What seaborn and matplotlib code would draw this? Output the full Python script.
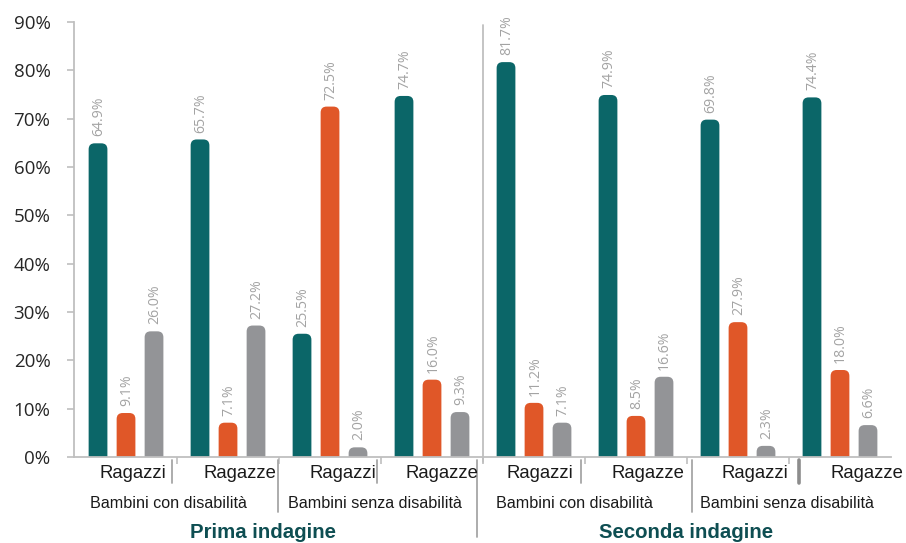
import matplotlib
matplotlib.use("Agg")
import matplotlib.pyplot as plt
import matplotlib.transforms as mtransforms
from matplotlib.patches import FancyBboxPatch
import numpy as np
import pandas as pd
import seaborn as sns

# ---------------- data ----------------
groups = ["Prima|con|Ragazzi", "Prima|con|Ragazze", "Prima|senza|Ragazzi", "Prima|senza|Ragazze",
          "Seconda|con|Ragazzi", "Seconda|con|Ragazze", "Seconda|senza|Ragazzi", "Seconda|senza|Ragazze"]
gender_labels = ["Ragazzi", "Ragazze", "Ragazzi", "Ragazze", "Ragazzi", "Ragazze", "Ragazzi", "Ragazze"]
category_labels = ["Bambini con disabilità", "Bambini senza disabilità",
                   "Bambini con disabilità", "Bambini senza disabilità"]
survey_labels = ["Prima indagine", "Seconda indagine"]
series_names = ["Serie 1", "Serie 2", "Serie 3"]
serie1 = [64.9, 65.7, 25.5, 74.7, 81.7, 74.9, 69.8, 74.4]
serie2 = [9.1, 7.1, 72.5, 16.0, 11.2, 8.5, 27.9, 18.0]
serie3 = [26.0, 27.2, 2.0, 9.3, 7.1, 16.6, 2.3, 6.6]
colors = ["#0b6668", "#e05728", "#939497"]

df = pd.DataFrame({
    "gruppo": groups * 3,
    "serie": [s for s in series_names for _ in groups],
    "valore": serie1 + serie2 + serie3,
})

# ---------------- figure ----------------
sns.set_theme(style="white")
plt.rcParams["font.family"] = ["Liberation Sans", "DejaVu Sans"]

W, H = 906, 543
fig = plt.figure(figsize=(W / 100, H / 100), dpi=100)
ax = fig.add_axes([74 / W, (H - 457) / H, (891 - 74) / W, (457 - 22) / H])

sns.barplot(data=df, x="gruppo", y="valore", hue="serie", order=groups,
            hue_order=series_names, palette=colors, width=0.8235, gap=0.33,
            legend=False, ax=ax, saturation=1)

ax.set_xlim(-0.51, 7.5)
ax.set_ylim(0, 90)

# rounded top bars
fig.canvas.draw()
p0 = ax.transData.transform((0, 0))
p1 = ax.transData.transform((1, 1))
px_x = p1[0] - p0[0]
px_y = p1[1] - p0[1]
r = 6.0 / px_x
asp = px_x / px_y
bars = list(ax.patches)
for b in bars:
    x, y0 = b.get_x(), b.get_y()
    w, h = b.get_width(), b.get_height()
    fc = b.get_facecolor()
    b.remove()
    fb = FancyBboxPatch((x, -5), w, h + 5,
                        boxstyle=f"round,pad=0,rounding_size={r}",
                        mutation_aspect=asp, fc=fc, ec="none")
    ax.add_patch(fb)
    ax.annotate(f"{h:.1f}%", (x + w / 2, h), xytext=(0.5, 5), textcoords="offset points",
                rotation=90, ha="center", va="bottom", fontsize=10.2, color="#a3a3a3",
                family=["Open Sans", "DejaVu Sans"])

# axes styling
for s in ["top", "right"]:
    ax.spines[s].set_visible(False)
for s in ["left", "bottom"]:
    ax.spines[s].set_color("#bfbfbf")
    ax.spines[s].set_linewidth(1.3)

ax.set_yticks(np.arange(0, 91, 10))
ax.set_yticklabels([f"{v}%" for v in range(0, 91, 10)],
                   family=["Open Sans", "DejaVu Sans"], fontsize=13.5, color="#262626")
ax.tick_params(axis="y", length=5, width=1.2, color="#bfbfbf", pad=12, direction="out", left=True)
ax.set_xticks(np.arange(0.5, 7, 1))
ax.set_xticklabels([])
ax.tick_params(axis="x", length=5, width=1.2, color="#bfbfbf", direction="out", bottom=True)
ax.set_xlabel("")
ax.set_ylabel("")

trans = mtransforms.blended_transform_factory(ax.transData, ax.transAxes)

def ay(py):
    return (457 - py) / 435.0

# gender labels
gender_x = [0.069, 1.118, 2.127, 3.098, 4.059, 5.118, 6.167, 7.265]
for gx, lab in zip(gender_x, gender_labels):
    ax.text(gx, ay(473), lab, transform=trans, ha="center", va="center",
            fontsize=13.3, color="#1a1a1a", clip_on=False)

# category labels
cat_x = [0.42, 2.44, 4.40, 6.48]
for cx, lab in zip(cat_x, category_labels):
    ax.text(cx, ay(503), lab, transform=trans, ha="center", va="center",
            fontsize=11.6, color="#1a1a1a", clip_on=False)

# survey titles
surv_x = [1.34, 5.49]
for sx, lab in zip(surv_x, survey_labels):
    ax.text(sx, ay(532), lab, transform=trans, ha="center", va="center",
            fontsize=14.7, fontweight="bold", color="#0e4e52", clip_on=False)

# separators
short_sep = [0.45, 2.46, 4.46]
for sx in short_sep:
    ax.plot([sx, sx], [ay(460), ay(483)], transform=trans, color="#a6a6a6", lw=1.3, clip_on=False)
ax.plot([6.60, 6.60], [ay(460), ay(483)], transform=trans, color="#8c8c8c", lw=2.6, clip_on=False)
for sx in [1.49, 5.55]:
    ax.plot([sx, sx], [ay(460), ay(512)], transform=trans, color="#a6a6a6", lw=1.3, clip_on=False)
ax.plot([3.44, 3.44], [ay(460), ay(537)], transform=trans, color="#a6a6a6", lw=1.3, clip_on=False)
ax.plot([3.497, 3.497], [ay(25), ay(462)], transform=trans, color="#bfbfbf", lw=1.3, clip_on=False)

fig.savefig("out.png", dpi=100)
